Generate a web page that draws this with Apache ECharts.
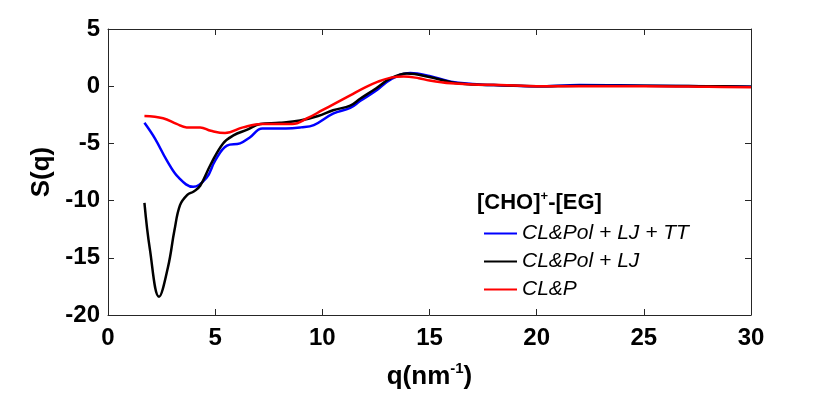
<!DOCTYPE html>
<html>
<head>
<meta charset="utf-8">
<script src="https://cdn.jsdelivr.net/npm/echarts@6/dist/echarts.min.js"></script>
<style>html,body{margin:0;padding:0;background:#fff}#main{width:830px;height:393px}</style>
</head>
<body>
<div id="main"></div>
<script>
// S(q) curves, [q, S]
var seriesNames = ['CL&Pol + LJ + TT', 'CL&Pol + LJ', 'CL&P'];
var seriesColors = ['#0000ff', '#000000', '#ff0000'];
var xTicks = [0, 5, 10, 15, 20, 25, 30];
var yTicks = [-20, -15, -10, -5, 0, 5];

var blueData = [[1.7,-3.2],[2.2,-4.6],[2.75,-6.5],[3.3,-8.0],[3.97,-8.8],[4.6,-8.0],[5.0,-6.5],[5.55,-5.2],
  [6.16,-5.0],[6.6,-4.5],[7.2,-3.7],[8.3,-3.7],[9.0,-3.6],[9.6,-3.4],[10.5,-2.4],[11.3,-1.9],[11.76,-1.3],
  [12.5,-0.4],[13.2,0.6],[14.1,1.15],[15,0.9],[16,0.4],[17,0.2],[18,0.1],[20,0.0],[22,0.1],[25,0.05],[28,0.0],[30,-0.05]];
var blackData = [[1.7,-10.2],[1.95,-14.2],[2.38,-18.4],[2.8,-15.8],[3.1,-12.6],[3.36,-10.4],[3.7,-9.5],[4.0,-9.2],
  [4.3,-8.7],[4.8,-6.8],[5.37,-5.0],[5.85,-4.3],[6.5,-3.8],[7.1,-3.3],[8.0,-3.2],[8.96,-3.0],[9.8,-2.6],[10.5,-2.1],
  [11.3,-1.7],[11.76,-1.1],[12.5,-0.2],[13.2,0.7],[13.95,1.1],[15,0.8],[16,0.35],[17,0.15],[18,0.1],[20,0.0],
  [22,0.05],[25,0.05],[28,0.0],[30,-0.05]];
var redData = [[1.7,-2.6],[2.57,-2.8],[3.2,-3.3],[3.67,-3.6],[4.3,-3.6],[4.8,-3.9],[5.46,-4.1],[6.3,-3.6],
  [7.2,-3.3],[8.0,-3.3],[8.6,-3.3],[9.3,-2.8],[10.0,-2.1],[10.6,-1.5],[11.3,-0.8],[12.0,-0.1],[12.6,0.4],
  [13.2,0.75],[13.8,0.85],[14.5,0.7],[15,0.5],[16,0.25],[17,0.15],[18.3,0.1],[20,0.0],[22,0.0],[25,0.0],
  [28,-0.05],[30,-0.1]];
var allData = [blueData, blackData, redData];

var myChart = echarts.init(document.getElementById('main'));
var font = 'Liberation Sans, Arial, Helvetica, sans-serif';
var axisLine = {show: true, onZero: false, lineStyle: {color: '#262626', width: 1}};
var tick = {show: true, inside: true, length: 6, lineStyle: {color: '#262626'}};

var series = [];
for (var i = 0; i < allData.length; i++) {
  series.push({
    name: seriesNames[i], type: 'line', data: allData[i], smooth: 0.4,
    showSymbol: false, symbol: 'none', xAxisIndex: 0, yAxisIndex: 0,
    lineStyle: {color: seriesColors[i], width: 2.5}, itemStyle: {color: seriesColors[i]}
  });
}

var option = {
  animation: false,
  grid: {left: 108, right: 79, top: 29, bottom: 78, containLabel: false, outerBoundsMode: 'none'},
  legend: {
    orient: 'vertical', left: 484, top: 223, itemGap: 7, padding: 0,
    itemWidth: 33, itemHeight: 2, icon: 'rect',
    data: seriesNames,
    textStyle: {fontFamily: font, fontSize: 21, fontStyle: 'italic', color: '#000'}
  },
  graphic: [{
    type: 'text', left: 477, top: 190,
    style: {
      text: '{a|[CHO]}{s|+}{a|-[EG]}',
      rich: {
        a: {fontFamily: font, fontSize: 22, fontWeight: 'bold', fill: '#000'},
        s: {fontFamily: font, fontSize: 13, fontWeight: 'bold', fill: '#000', verticalAlign: 'top', padding: [0, 0, 12, 0]}
      }
    }
  }],
  xAxis: [{
    type: 'value', min: 0, max: 30, interval: 5,
    name: '{a|q(nm}{s|-1}{a|)}', nameLocation: 'middle', nameGap: 46,
    nameTextStyle: {
      rich: {
        a: {fontFamily: font, fontSize: 26, fontWeight: 'bold', color: '#000'},
        s: {fontFamily: font, fontSize: 15, fontWeight: 'bold', color: '#000', verticalAlign: 'top', padding: [0, 0, 16, 0]}
      }
    },
    axisLine: axisLine, axisTick: tick, splitLine: {show: false},
    axisLabel: {fontFamily: font, fontSize: 24, fontWeight: 'bold', color: '#000', margin: 11}
  }, {
    type: 'value', min: 0, max: 30, interval: 5, position: 'top',
    axisLine: axisLine, axisTick: tick, axisLabel: {show: false}, splitLine: {show: false}
  }],
  yAxis: [{
    type: 'value', min: -20, max: 5, interval: 5,
    name: 'S(q)', nameLocation: 'middle', nameGap: 36, nameRotate: 90,
    nameTextStyle: {fontFamily: font, fontSize: 26, fontWeight: 'bold', color: '#000'},
    axisLine: axisLine, axisTick: tick, splitLine: {show: false},
    axisLabel: {fontFamily: font, fontSize: 24, fontWeight: 'bold', color: '#000', margin: 8}
  }, {
    type: 'value', min: -20, max: 5, interval: 5, position: 'right',
    axisLine: axisLine, axisTick: tick, axisLabel: {show: false}, splitLine: {show: false}
  }],
  series: series
};
myChart.setOption(option);
</script>
</body>
</html>
